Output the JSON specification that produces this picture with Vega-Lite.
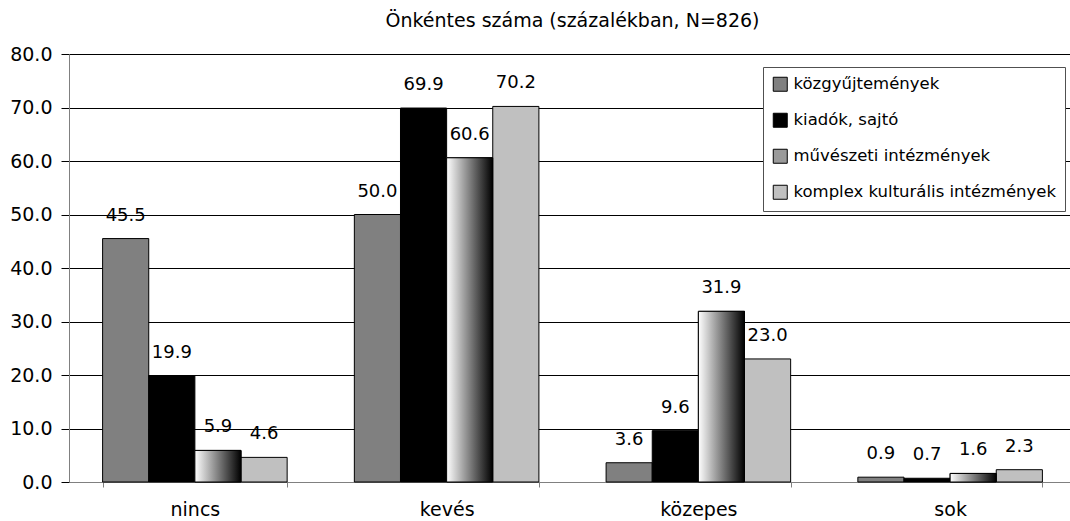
{
  "$schema": "https://vega.github.io/schema/vega-lite/v6.json",
  "autosize": {"type": "none"},
  "padding": {"left": 69, "top": 54, "right": 0, "bottom": 39},
  "width": 1007,
  "height": 428,
  "background": "white",
  "config": {"view": {"stroke": null}},
  "title": {
    "text": "Önkéntes száma (százalékban, N=826)",
    "font": "DejaVu Sans",
    "fontSize": 19,
    "fontWeight": "normal",
    "color": "black",
    "anchor": "middle",
    "offset": 14
  },
  "data": {
    "values": [
      {"kategoria": "nincs", "tipus": "közgyűjtemények", "ertek": 45.5},
      {"kategoria": "nincs", "tipus": "kiadók, sajtó", "ertek": 19.9},
      {"kategoria": "nincs", "tipus": "művészeti intézmények", "ertek": 5.9},
      {"kategoria": "nincs", "tipus": "komplex kulturális intézmények", "ertek": 4.6},
      {"kategoria": "kevés", "tipus": "közgyűjtemények", "ertek": 50.0},
      {"kategoria": "kevés", "tipus": "kiadók, sajtó", "ertek": 69.9},
      {"kategoria": "kevés", "tipus": "művészeti intézmények", "ertek": 60.6},
      {"kategoria": "kevés", "tipus": "komplex kulturális intézmények", "ertek": 70.2},
      {"kategoria": "közepes", "tipus": "közgyűjtemények", "ertek": 3.6},
      {"kategoria": "közepes", "tipus": "kiadók, sajtó", "ertek": 9.6},
      {"kategoria": "közepes", "tipus": "művészeti intézmények", "ertek": 31.9},
      {"kategoria": "közepes", "tipus": "komplex kulturális intézmények", "ertek": 23.0},
      {"kategoria": "sok", "tipus": "közgyűjtemények", "ertek": 0.9},
      {"kategoria": "sok", "tipus": "kiadók, sajtó", "ertek": 0.7},
      {"kategoria": "sok", "tipus": "művészeti intézmények", "ertek": 1.6},
      {"kategoria": "sok", "tipus": "komplex kulturális intézmények", "ertek": 2.3}
    ]
  },
  "encoding": {
    "x": {
      "field": "kategoria",
      "type": "nominal",
      "sort": ["nincs", "kevés", "közepes", "sok"],
      "scale": {"paddingInner": 0.267, "paddingOuter": 0.1335},
      "title": null,
      "axis": {
        "tickBand": "extent",
        "domainColor": "#808080",
        "tickColor": "#808080",
        "tickSize": 5,
        "labelPadding": 13,
        "labelFont": "DejaVu Sans",
        "labelFontSize": 19,
        "labelColor": "black",
        "labelAngle": 0,
        "grid": false
      }
    },
    "xOffset": {
      "field": "tipus",
      "type": "nominal",
      "sort": ["közgyűjtemények", "kiadók, sajtó", "művészeti intézmények", "komplex kulturális intézmények"],
      "scale": {"domain": ["közgyűjtemények", "kiadók, sajtó", "művészeti intézmények", "komplex kulturális intézmények"], "paddingInner": 0, "paddingOuter": 0}
    },
    "y": {
      "field": "ertek",
      "type": "quantitative",
      "scale": {"domain": [0, 80], "nice": false},
      "title": null,
      "axis": {
        "values": [0, 10, 20, 30, 40, 50, 60, 70, 80],
        "format": ".1f",
        "grid": true,
        "gridColor": {"condition": {"test": "datum.value === 0", "value": "#808080"}, "value": "black"},
        "gridWidth": 1,
        "domainColor": "#808080",
        "tickColor": "black",
        "tickSize": 8,
        "labelPadding": 9,
        "labelFont": "DejaVu Sans",
        "labelFontSize": 19,
        "labelColor": "black"
      }
    }
  },
  "layer": [
    {
      "mark": {"type": "bar", "stroke": "black", "strokeWidth": 1},
      "encoding": {
        "color": {
          "field": "tipus",
          "type": "nominal",
          "scale": {
            "domain": ["közgyűjtemények", "kiadók, sajtó", "művészeti intézmények", "komplex kulturális intézmények"],
            "range": ["#808080", "#000000", "#9a9a9a", "#c0c0c0"]
          },
          "legend": {
            "orient": "none",
            "legendX": 694,
            "legendY": 13,
            "title": null,
            "fillColor": "white",
            "strokeColor": "#505050",
            "padding": 9,
            "rowPadding": 17,
            "symbolType": "square",
            "symbolSize": 196,
            "symbolStrokeColor": "black",
            "symbolStrokeWidth": 1,
            "symbolOpacity": 1,
            "labelFont": "DejaVu Sans",
            "labelFontSize": 16.5,
            "labelColor": "black",
            "labelOffset": 5,
            "labelLimit": 400
          }
        }
      }
    },
    {
      "transform": [{"filter": "datum.tipus === 'művészeti intézmények'"}],
      "mark": {
        "type": "bar",
        "stroke": "black",
        "strokeWidth": 1,
        "color": {"gradient": "linear", "x1": 0, "y1": 0, "x2": 1, "y2": 0, "stops": [{"offset": 0, "color": "#ffffff"}, {"offset": 1, "color": "#000000"}]}
      }
    },
    {
      "mark": {"type": "text", "baseline": "alphabetic", "dy": -18, "font": "DejaVu Sans", "fontSize": 18, "fill": "black"},
      "encoding": {
        "text": {"field": "ertek", "type": "quantitative", "format": ".1f"}
      }
    }
  ]
}
